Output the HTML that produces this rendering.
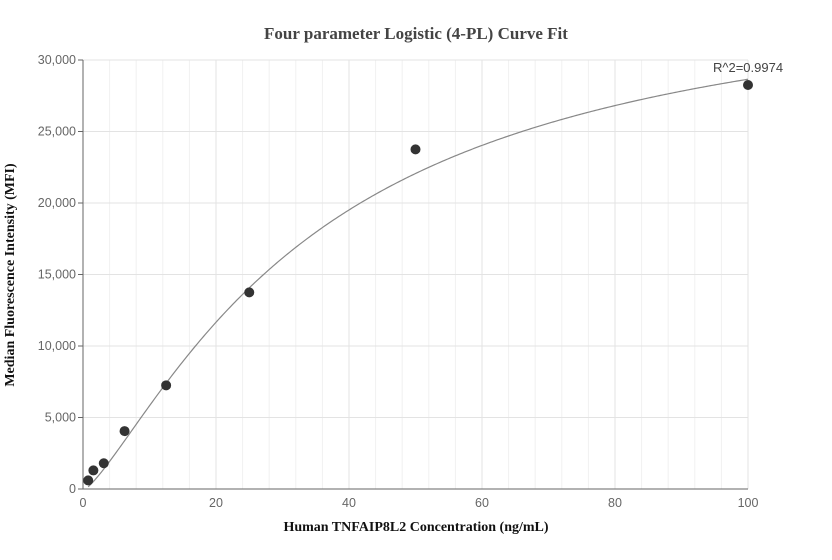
<!DOCTYPE html>
<html><head><meta charset="utf-8"><style>
html,body{margin:0;padding:0;background:#fff;}
svg{display:block;}
.tick{font-family:"Liberation Sans",sans-serif;font-size:12.5px;fill:#666;}
</style></head><body>
<svg width="832" height="560" xmlns="http://www.w3.org/2000/svg">
<text x="416" y="39" text-anchor="middle" font-family="Liberation Serif,serif" font-weight="bold" font-size="17" fill="#444">Four parameter Logistic (4-PL) Curve Fit</text>
<g id="grid"></g>
<g id="axes"></g>
<path id="curve" fill="none" stroke="#888" stroke-width="1.2"/>
<g id="pts"></g>
<text x="713" y="72" text-anchor="start" font-family="Liberation Sans,sans-serif" font-size="13" fill="#444">R^2=0.9974</text>
<text x="416" y="531" text-anchor="middle" font-family="Liberation Serif,serif" font-weight="bold" font-size="14" fill="#111">Human TNFAIP8L2 Concentration (ng/mL)</text>
<text transform="translate(14,275) rotate(-90)" text-anchor="middle" font-family="Liberation Serif,serif" font-weight="bold" font-size="14" fill="#111">Median Fluorescence Intensity (MFI)</text>
</svg>
<script>
const concentrations=[0.78,1.56,3.125,6.25,12.5,25,50,100];
const mfiValues=[600,1300,1800,4050,7250,13750,23750,28250];
const xTicks=[0,20,40,60,80,100];
const yTicks=[0,5000,10000,15000,20000,25000,30000];
const yTickLabels=["0","5,000","10,000","15,000","20,000","25,000","30,000"];
const fitTop=36000, fitBottom=-100, fitC=35, fitB=1.3;
const X0=83,X1=748,Y0=489,Y1=60;
const sx=v=>X0+(v-0)/(100-0)*(X1-X0);
const sy=v=>Y0-(v-0)/(30000-0)*(Y0-Y1);
const NS="http://www.w3.org/2000/svg";
function mk(tag,attrs,parent){const e=document.createElementNS(NS,tag);for(const k in attrs)e.setAttribute(k,attrs[k]);parent.appendChild(e);return e;}
const grid=document.getElementById('grid'),axes=document.getElementById('axes');
for(let v=4;v<100;v+=4){if(v%20===0)continue;const l=mk('line',{x1:sx(v),x2:sx(v),y1:Y1,y2:Y0,stroke:'#f1f1f1'},grid);

}
xTicks.forEach(v=>{if(v>0){const l=mk('line',{x1:sx(v),x2:sx(v),y1:Y1,y2:Y0,stroke:'#e3e3e3'},grid);

}
const t=mk('text',{x:sx(v),y:Y0+18,'text-anchor':'middle',class:'tick'},axes);t.textContent=v;

});
yTicks.forEach((v,i)=>{if(v>0){const l=mk('line',{x1:X0,x2:X1,y1:sy(v),y2:sy(v),stroke:'#e3e3e3'},grid);

}
mk('line',{x1:X0-5,x2:X0,y1:sy(v),y2:sy(v),stroke:'#666'},axes);
const t=mk('text',{x:X0-7,y:sy(v)+4,'text-anchor':'end',class:'tick'},axes);t.textContent=yTickLabels[i];

});
const ya=mk('line',{x1:X0,x2:X0,y1:Y1,y2:Y0,stroke:'#666'},axes);


const xa=mk('line',{x1:X0,x2:X1,y1:Y0,y2:Y0,stroke:'#666'},axes);


let d='';for(let i=0;i<=400;i++){const x=0.78+(100-0.78)*i/400;const y=fitBottom+(fitTop-fitBottom)/(1+Math.pow(fitC/x,fitB));d+=(i?'L':'M')+sx(x).toFixed(2)+','+sy(y).toFixed(2);}
document.getElementById('curve').setAttribute('d',d);
const pts=document.getElementById('pts');
concentrations.forEach((c,i)=>{const p=mk('circle',{cx:sx(c),cy:sy(mfiValues[i]),r:5,fill:'#333'},pts);

});
</script>
</body></html>
